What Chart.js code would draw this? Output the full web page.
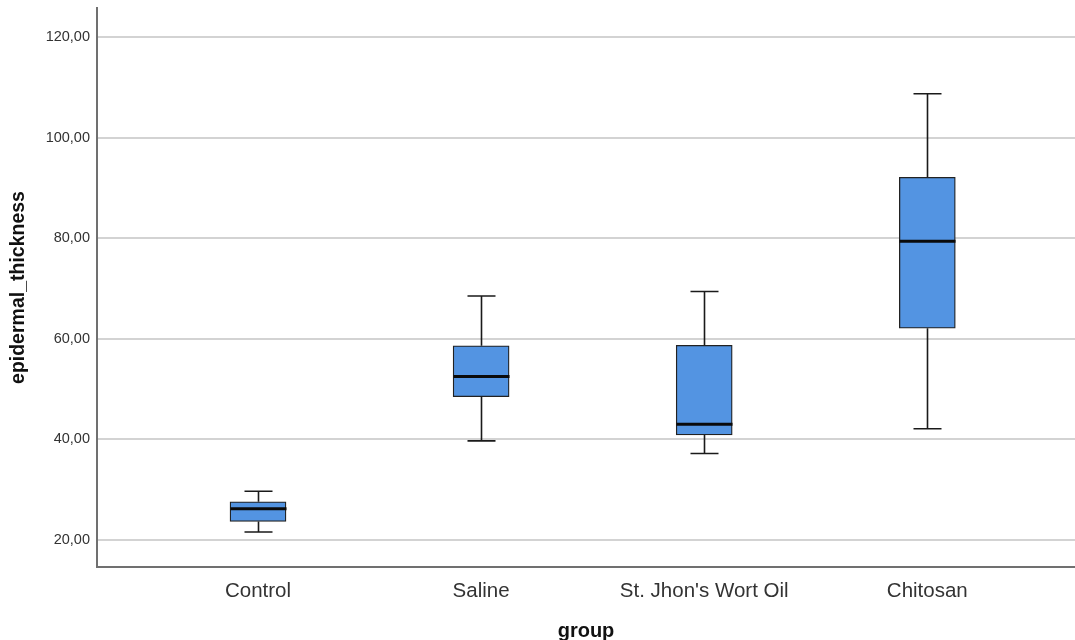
<!DOCTYPE html>
<html>
<head>
<meta charset="utf-8">
<script src="https://cdn.jsdelivr.net/npm/chart.js@4.4.1/dist/chart.umd.min.js"></script>
<style>
  html, body { margin: 0; padding: 0; background: #ffffff; overflow: hidden; }
  #wrap { position: relative; width: 1075px; height: 640px; overflow: hidden; }
  #box { position: absolute; left: 0; top: 0; width: 1075px; height: 660px; }
</style>
</head>
<body>
<div id="wrap"><div id="box"><canvas id="c" width="1075" height="660"></canvas></div></div>
<script>
// ---- data ----
const categories = ["Control", "Saline", "St. Jhon's Wort Oil", "Chitosan"];
const whiskerMin = [21.6, 39.7, 37.2, 42.1];
const q1Values   = [23.7, 48.5, 40.9, 62.1];
const medians    = [26.2, 52.5, 43.0, 79.4];
const q3Values   = [27.6, 58.6, 58.7, 92.1];
const whiskerMax = [29.7, 68.5, 69.4, 108.7];
const yTickValues = [20, 40, 60, 80, 100, 120];
const xTitle = "group";
const yTitle = "epidermal_thickness";

const positions = categories.map((_, i) => i + 1);
const boxData = positions.map((p, i) => ({ x: p, y: [q1Values[i], q3Values[i]] }));

const FONT = "'Liberation Sans', Arial, sans-serif";
const BOX_W = 56, CAP_W = 28;

const boxPlotPlugin = {
  id: 'boxWhiskers',
  afterDatasetsDraw(chart) {
    const ctx = chart.ctx, xs = chart.scales.x, ys = chart.scales.y;
    ctx.save();
    positions.forEach((p, i) => {
      const cx = Math.round(xs.getPixelForValue(p)) + 0.5;
      const yMin = ys.getPixelForValue(whiskerMin[i]);
      const yQ1 = ys.getPixelForValue(q1Values[i]);
      const yQ3 = ys.getPixelForValue(q3Values[i]);
      const yMax = ys.getPixelForValue(whiskerMax[i]);
      const yMed = ys.getPixelForValue(medians[i]);
      ctx.strokeStyle = '#1a1a1a';
      ctx.lineWidth = 1.6;
      ctx.beginPath();
      ctx.moveTo(cx, yMin); ctx.lineTo(cx, yQ1);
      ctx.moveTo(cx, yQ3); ctx.lineTo(cx, yMax);
      ctx.moveTo(cx - CAP_W / 2, yMin); ctx.lineTo(cx + CAP_W / 2, yMin);
      ctx.moveTo(cx - CAP_W / 2, yMax); ctx.lineTo(cx + CAP_W / 2, yMax);
      ctx.stroke();
      ctx.lineWidth = 3;
      ctx.strokeStyle = '#0a0a0a';
      ctx.beginPath();
      ctx.moveTo(cx - BOX_W / 2, yMed); ctx.lineTo(cx + BOX_W / 2, yMed);
      ctx.stroke();
    });
    ctx.restore();
  }
};

new Chart(document.getElementById('c'), {
  type: 'bar',
  data: {
    datasets: [{
      data: boxData,
      backgroundColor: '#5394e2',
      borderColor: '#222222',
      borderWidth: 1.3,
      borderSkipped: false,
      barThickness: BOX_W
    }]
  },
  plugins: [boxPlotPlugin],
  options: {
    responsive: false,
    animation: false,
    devicePixelRatio: 1,
    layout: { padding: { left: 0, right: 0, top: 8, bottom: 0 } },
    plugins: { legend: { display: false }, tooltip: { enabled: false } },
    scales: {
      x: {
        type: 'linear',
        offset: false,
        min: 0.2783,
        max: 4.662,
        afterBuildTicks: (s) => { s.ticks = positions.map(v => ({ value: v })); },
        afterFit: (s) => { s.height = 93; s.paddingLeft = 0; s.paddingRight = 0; },
        grid: { display: false, drawTicks: false, offset: false },
        border: { display: true, color: '#707070', width: 2 },
        ticks: {
          padding: 12,
          color: '#333333',
          font: { family: FONT, size: 20.5 },
          callback: (v) => categories[v - 1] || ''
        },
        title: {
          display: true,
          text: xTitle,
          color: '#111111',
          font: { family: FONT, size: 20, weight: 'bold' },
          padding: { top: 0, bottom: 17 }
        }
      },
      y: {
        min: 14.63,
        max: 125.76,
        afterBuildTicks: (s) => { s.ticks = yTickValues.map(v => ({ value: v })); },
        afterFit: (s) => { s.width = 97; s.paddingTop = 0; s.paddingBottom = 0; },
        grid: { color: '#d3d3d3', lineWidth: 2, drawTicks: false },
        border: { display: true, color: '#707070', width: 2 },
        ticks: {
          padding: 7,
          color: '#333333',
          font: { family: FONT, size: 14.5 },
          callback: (v) => Number(v).toFixed(2).replace('.', ',')
        },
        title: {
          display: true,
          text: yTitle,
          color: '#111111',
          font: { family: FONT, size: 19.5, weight: 'bold' },
          padding: { top: 7, bottom: 0 }
        }
      }
    }
  }
});
</script>
</body>
</html>
